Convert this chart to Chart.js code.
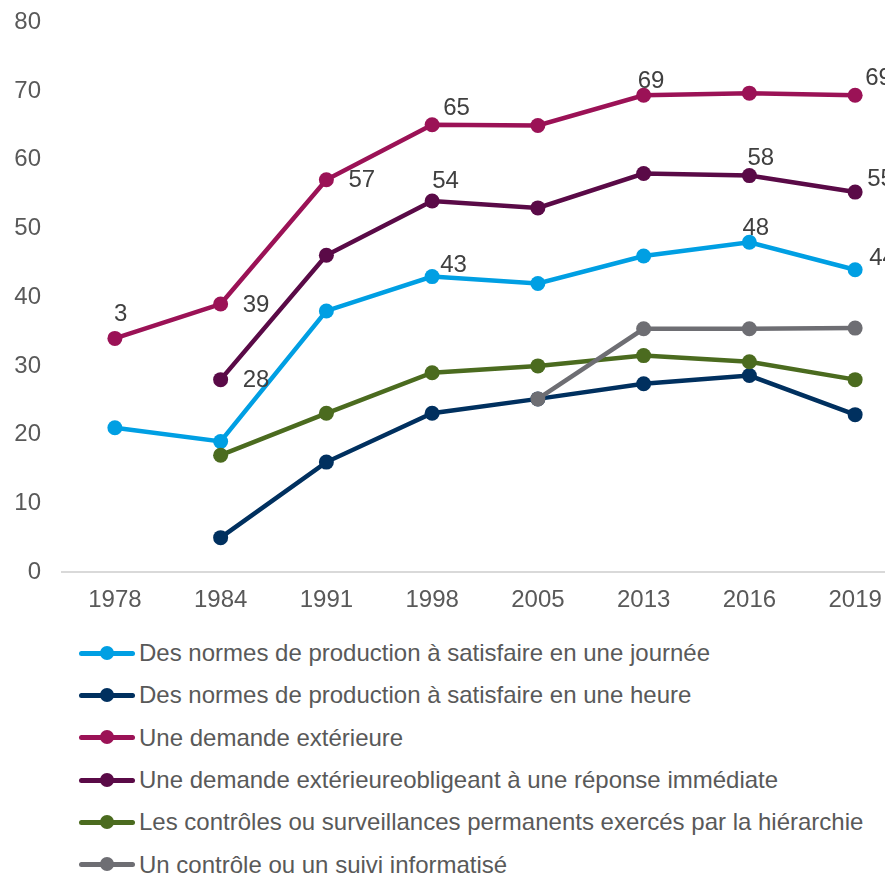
<!DOCTYPE html>
<html>
<head>
<meta charset="utf-8">
<script src="https://cdn.jsdelivr.net/npm/chart.js@4"></script>
<style>
  html, body { margin: 0; padding: 0; background: #fff; overflow: hidden; width: 885px; height: 874px; }
  #wrap { position: absolute; left: 0; top: -13px; width: 930px; height: 633px; }
  #legend { position: absolute; left: 79px; top: 632px; font-family: "Liberation Sans", Arial, sans-serif; font-size: 24px; color: #595959; }
  .row { height: 42.3px; display: flex; align-items: center; white-space: nowrap; }
  .mark { position: relative; width: 56px; height: 5px; border-radius: 3px; margin-right: 4px; }
  .mark i { position: absolute; left: 21px; top: -5px; width: 14px; height: 14px; border-radius: 50%; background: inherit; }
</style>
</head>
<body>
<div id="wrap"><canvas id="chart" width="930" height="633"></canvas></div>
<div id="legend"></div>
<script>
// categories
const years = ['1978', '1984', '1991', '1998', '2005', '2013', '2016', '2019'];

// series (%), null = not asked that year
const normesJournee = [21, 19, 38, 43, 42, 46, 48, 44];
const normesHeure = [null, 5, 16, 23.1, 25.2, 27.4, 28.6, 22.9];
const demandeExt = [34, 39, 57.1, 65.1, 65, 69.4, 69.7, 69.4];
const demandeImmediate = [null, 28, 46.1, 54, 53, 58, 57.7, 55.3];
const controlesHierarchie = [null, 17, 23.1, 29, 30, 31.5, 30.6, 28];
const suiviInformatise = [null, null, null, null, 25.2, 35.4, 35.4, 35.5];

// data label texts as printed on the chart
const normesJourneeLabels = [null, null, null, '43', null, null, '48', '44'];
const demandeExtLabels = ['3', '39', '57', '65', null, '69', null, '69'];
const demandeImmediateLabels = [null, '28', null, '54', null, null, '58', '55'];

// where each label sits next to its point: [dx to text left, dy to text middle]
const normesJourneeOffsets = [null, null, null, [8, -11], null, null, [-7, -14], [14, -11]];
const demandeExtOffsets = [[-1, -24], [22, 1], [22, 1], [11, -16], null, [-6, -14], null, [10, -17]];
const demandeImmediateOffsets = [null, [22, 1], null, [0, -20], null, null, [-2, -17], [12, -13]];

const series = [
  { label: 'Des normes de production à satisfaire en une journée', data: normesJournee, color: '#009FE3', texts: normesJourneeLabels, offsets: normesJourneeOffsets },
  { label: 'Des normes de production à satisfaire en une heure', data: normesHeure, color: '#00305F' },
  { label: 'Une demande extérieure', data: demandeExt, color: '#9B1256', texts: demandeExtLabels, offsets: demandeExtOffsets },
  { label: 'Une demande extérieureobligeant à une réponse immédiate', data: demandeImmediate, color: '#5A0A47', texts: demandeImmediateLabels, offsets: demandeImmediateOffsets },
  { label: 'Les contrôles ou surveillances permanents exercés par la hiérarchie', data: controlesHierarchie, color: '#4B6B1F' },
  { label: 'Un contrôle ou un suivi informatisé', data: suiviInformatise, color: '#6E6E73' }
];

const FONT = '"Liberation Sans", Arial, sans-serif';

// small hand-made data label drawer (no datalabels plugin available)
const valueLabels = {
  id: 'valueLabels',
  afterDatasetsDraw(chart) {
    const ctx = chart.ctx;
    ctx.save();
    ctx.font = '24px ' + FONT;
    ctx.fillStyle = '#404040';
    ctx.textAlign = 'left';
    ctx.textBaseline = 'middle';
    series.forEach((s, di) => {
      if (!s.texts) return;
      const meta = chart.getDatasetMeta(di);
      s.texts.forEach((t, i) => {
        if (t == null) return;
        const pt = meta.data[i];
        const off = s.offsets[i];
        ctx.fillText(t, pt.x + off[0], pt.y + off[1]);
      });
    });
    ctx.restore();
  }
};

const chart = new Chart(document.getElementById('chart'), {
  type: 'line',
  data: {
    labels: years,
    datasets: series.map((s, i) => ({
      label: s.label,
      data: s.data,
      borderColor: s.color,
      backgroundColor: s.color,
      pointBackgroundColor: s.color,
      pointBorderColor: s.color,
      borderWidth: 4.5,
      pointRadius: 7.5,
      pointBorderWidth: 0,
      tension: 0,
      spanGaps: false,
      order: series.length - i
    }))
  },
  options: {
    responsive: false,
    devicePixelRatio: 1,
    animation: false,
    layout: { padding: { top: 9, right: 22, left: 0, bottom: 0 } },
    plugins: { legend: { display: false }, tooltip: { enabled: false } },
    scales: {
      x: {
        offset: true,
        grid: { display: false, drawTicks: false },
        border: { display: true, color: '#D9D9D9', width: 2 },
        ticks: { color: '#595959', font: { size: 24, family: FONT }, padding: 14, maxRotation: 0 },
        afterFit(scale) { scale.height = 48; }
      },
      y: {
        min: 0,
        max: 80,
        grid: { display: false, drawTicks: false },
        border: { display: false },
        ticks: { stepSize: 10, color: '#595959', font: { size: 24, family: FONT }, padding: 21 },
        afterFit(scale) { scale.width = 62; }
      }
    }
  },
  plugins: [valueLabels]
});

// legend below the chart, one entry per row
const legend = document.getElementById('legend');
series.forEach(s => {
  const row = document.createElement('div');
  row.className = 'row';
  const mark = document.createElement('span');
  mark.className = 'mark';
  mark.style.background = s.color;
  mark.appendChild(document.createElement('i'));
  const txt = document.createElement('span');
  txt.textContent = s.label;
  row.appendChild(mark);
  row.appendChild(txt);
  legend.appendChild(row);
});
</script>
</body>
</html>
